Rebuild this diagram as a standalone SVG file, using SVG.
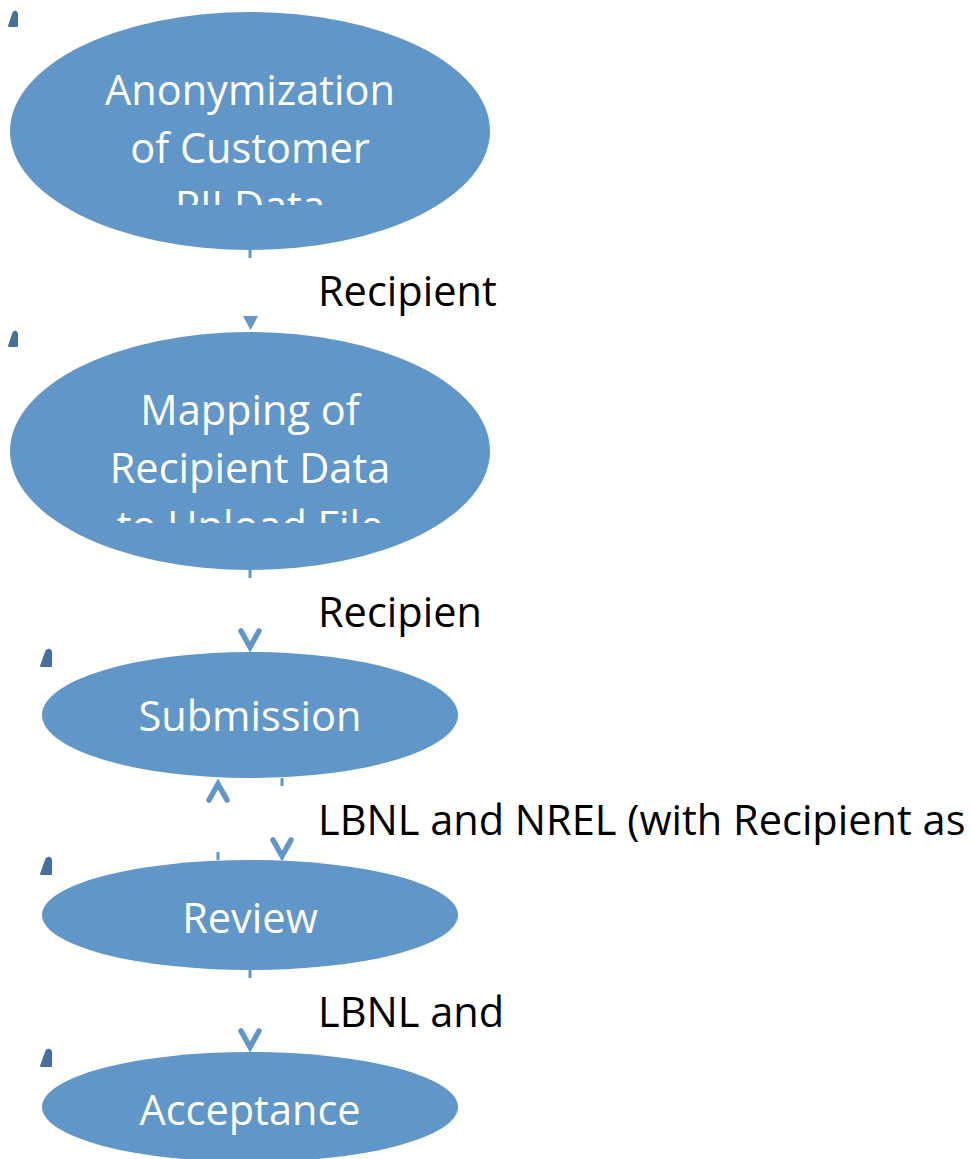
<svg xmlns="http://www.w3.org/2000/svg" width="971" height="1159" viewBox="0 0 971 1159">
<style>
.node{fill:#6196c8}
.nt{font-family:"Open Sans","Liberation Sans",sans-serif;font-size:41.5px;fill:#ffffff;text-anchor:middle}
.lbl{font-family:"Open Sans","Liberation Sans",sans-serif;font-size:41.5px;fill:#000000}
.mark{fill:#44709e;stroke:#44709e;stroke-width:2;stroke-linejoin:round}
.stub{stroke:#6196c8;stroke-width:3;fill:none}
.chev{stroke:#6196c8;stroke-width:5.5;fill:none;stroke-linecap:round;stroke-linejoin:miter}
</style>
<defs>
<clipPath id="c1"><rect x="0" y="0" width="971" height="205"/></clipPath>
<clipPath id="c2"><rect x="0" y="330" width="971" height="193"/></clipPath>
</defs>
<g id="connectors">
<line class="stub" x1="250" y1="249" x2="250" y2="258"/>
<polygon points="243,316 258,316 250.5,330" fill="#6196c8"/>
<line class="stub" x1="250" y1="569" x2="250" y2="578"/>
<polyline class="chev" points="241,631 250,647 259,631"/>
<line class="stub" x1="282" y1="778" x2="282" y2="786"/>
<polyline class="chev" points="273,840 282,856 291,840"/>
<line class="stub" x1="218" y1="852" x2="218" y2="860"/>
<polyline class="chev" points="209,800 218,784 227,800"/>
<line class="stub" x1="250" y1="969" x2="250" y2="978"/>
<polyline class="chev" points="241,1031 250,1047 259,1031"/>
<text class="lbl" x="318" y="306">Recipient</text>
<text class="lbl" x="318" y="627">Recipien</text>
<text class="lbl" x="318" y="835">LBNL and NREL (with Recipient as</text>
<text class="lbl" x="318" y="1027">LBNL and</text>
</g>
<g id="node-anonymization">
<path class="mark" d="M9,26 L13,14 Q14,11 16,12 L17,14 L17,26 Z"/>
<ellipse class="node" cx="250" cy="131" rx="240" ry="119"/>
<g clip-path="url(#c1)">
<text class="nt" x="250" y="105">Anonymization</text>
<text class="nt" x="250" y="163">of Customer</text>
<text class="nt" x="250" y="221">PII Data</text>
</g>
</g>
<g id="node-mapping">
<path class="mark" d="M9,346 L13,334 Q14,331 16,332 L17,334 L17,346 Z"/>
<ellipse class="node" cx="250" cy="451" rx="240" ry="119"/>
<g clip-path="url(#c2)">
<text class="nt" x="250" y="425">Mapping of</text>
<text class="nt" x="250" y="483">Recipient Data</text>
<text class="nt" x="250" y="541">to Upload File</text>
</g>
</g>
<g id="node-submission">
<path class="mark" d="M41,666 L46,652 Q47,649 50,650 L51,652 L51,666 Z"/>
<ellipse class="node" cx="250" cy="715" rx="208" ry="63"/>
<text class="nt" x="250" y="731">Submission</text>
</g>
<g id="node-review">
<path class="mark" d="M41,874 L46,860 Q47,857 50,858 L51,860 L51,874 Z"/>
<ellipse class="node" cx="250" cy="915" rx="208" ry="55"/>
<text class="nt" x="250" y="933">Review</text>
</g>
<g id="node-acceptance">
<path class="mark" d="M41,1066 L46,1052 Q47,1049 50,1050 L51,1052 L51,1066 Z"/>
<ellipse class="node" cx="250" cy="1107" rx="208" ry="55"/>
<text class="nt" x="250" y="1125">Acceptance</text>
</g>
</svg>
